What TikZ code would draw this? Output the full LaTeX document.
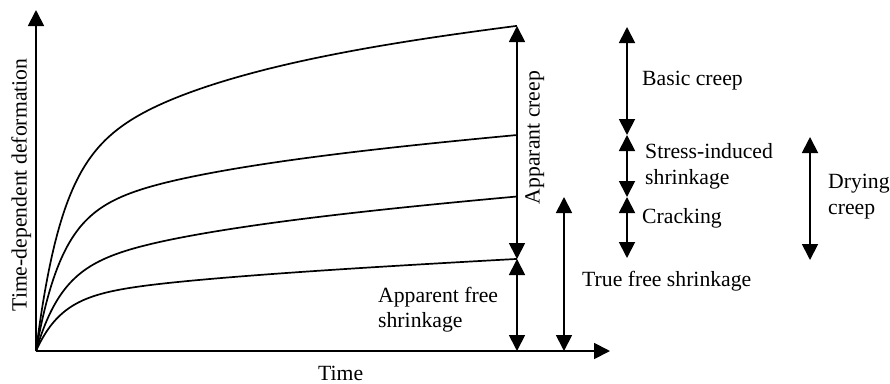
\documentclass[tikz,border=0pt]{standalone}
\usepackage{fontspec}
\setmainfont{Liberation Serif}
\usetikzlibrary{arrows.meta}
\begin{document}
\begin{tikzpicture}[x=1pt,y=-1pt,
  dbl/.style={line width=1.8pt,{Triangle[length=16pt,width=16pt]}-{Triangle[length=16pt,width=16pt]}},
  axis/.style={line width=1.8pt,-{Triangle[length=16pt,width=16pt]}},
  curve/.style={line width=1.7pt,smooth,domain=0:481,samples=160},
  lab/.style={font=\fontsize{21.7}{26}\selectfont,inner sep=0pt,anchor=base west}]
\useasboundingbox (0,0) rectangle (890,383);
\coordinate (O) at (36,351);
\coordinate (ytop) at (36,10);
\coordinate (xend) at (610,351);
\draw[axis] (O) -- (ytop);
\draw[axis] (O) -- (xend);
% curves
\coordinate (c1) at (517,26);
\coordinate (c2) at (517,135);
\coordinate (c3) at (517,197);
\coordinate (c4) at (517,259);
\draw[curve] plot ({36+\x},{351-(176*(1-exp(-\x/25))+105.3*(1-exp(-\x/150))+0.1*\x)});
\draw[curve] plot ({36+\x},{351-(130.2*(1-exp(-\x/25))+49.3*(1-exp(-\x/150))+0.08*\x)});
\draw[curve] plot ({36+\x},{351-(76.6*(1-exp(-\x/25))+41.1*(1-exp(-\x/150))+0.08*\x)});
\draw[curve] plot ({36+\x},{351-(51.7*(1-exp(-\x/25))+17*(1-exp(-\x/150))+0.05*\x)});
% arrows
\coordinate (b0) at (517,351);
\coordinate (t0) at (564,197);
\coordinate (t1) at (564,351);
\draw[dbl] (c1) -- (c4);
\draw[dbl] (c4) -- (b0);
\draw[dbl] (t0) -- (t1);
\coordinate (r0) at (627,27);
\coordinate (r1) at (627,135);
\coordinate (r2) at (627,197);
\coordinate (r3) at (627,258);
\draw[dbl] (r0) -- (r1);
\draw[dbl] (r1) -- (r2);
\draw[dbl] (r2) -- (r3);
\coordinate (d0) at (810,137);
\coordinate (d1) at (810,260);
\draw[dbl] (d0) -- (d1);
% labels
\node[lab] (lbc) at (642,85) {Basic creep};
\node[lab] (lsi) at (645,158) {Stress-induced};
\node[lab] (lsh) at (645,184) {shrinkage};
\node[lab] (lcr) at (642,223) {Cracking};
\node[lab] (ldr) at (828,188) {Drying};
\node[lab] (ldc) at (828,214) {creep};
\node[lab] (ltf) at (582,286) {True free shrinkage};
\node[lab] (laf) at (378,302) {Apparent free};
\node[lab] (las) at (378,327) {shrinkage};
\node[lab] (ltm) at (318,380) {Time};
\node[lab,anchor=base,rotate=90] (ly) at (26.5,185) {Time-dependent deformation};
\node[lab,anchor=base,rotate=90] (lac) at (539.5,137.5) {Apparant creep};
\end{tikzpicture}
\end{document}
